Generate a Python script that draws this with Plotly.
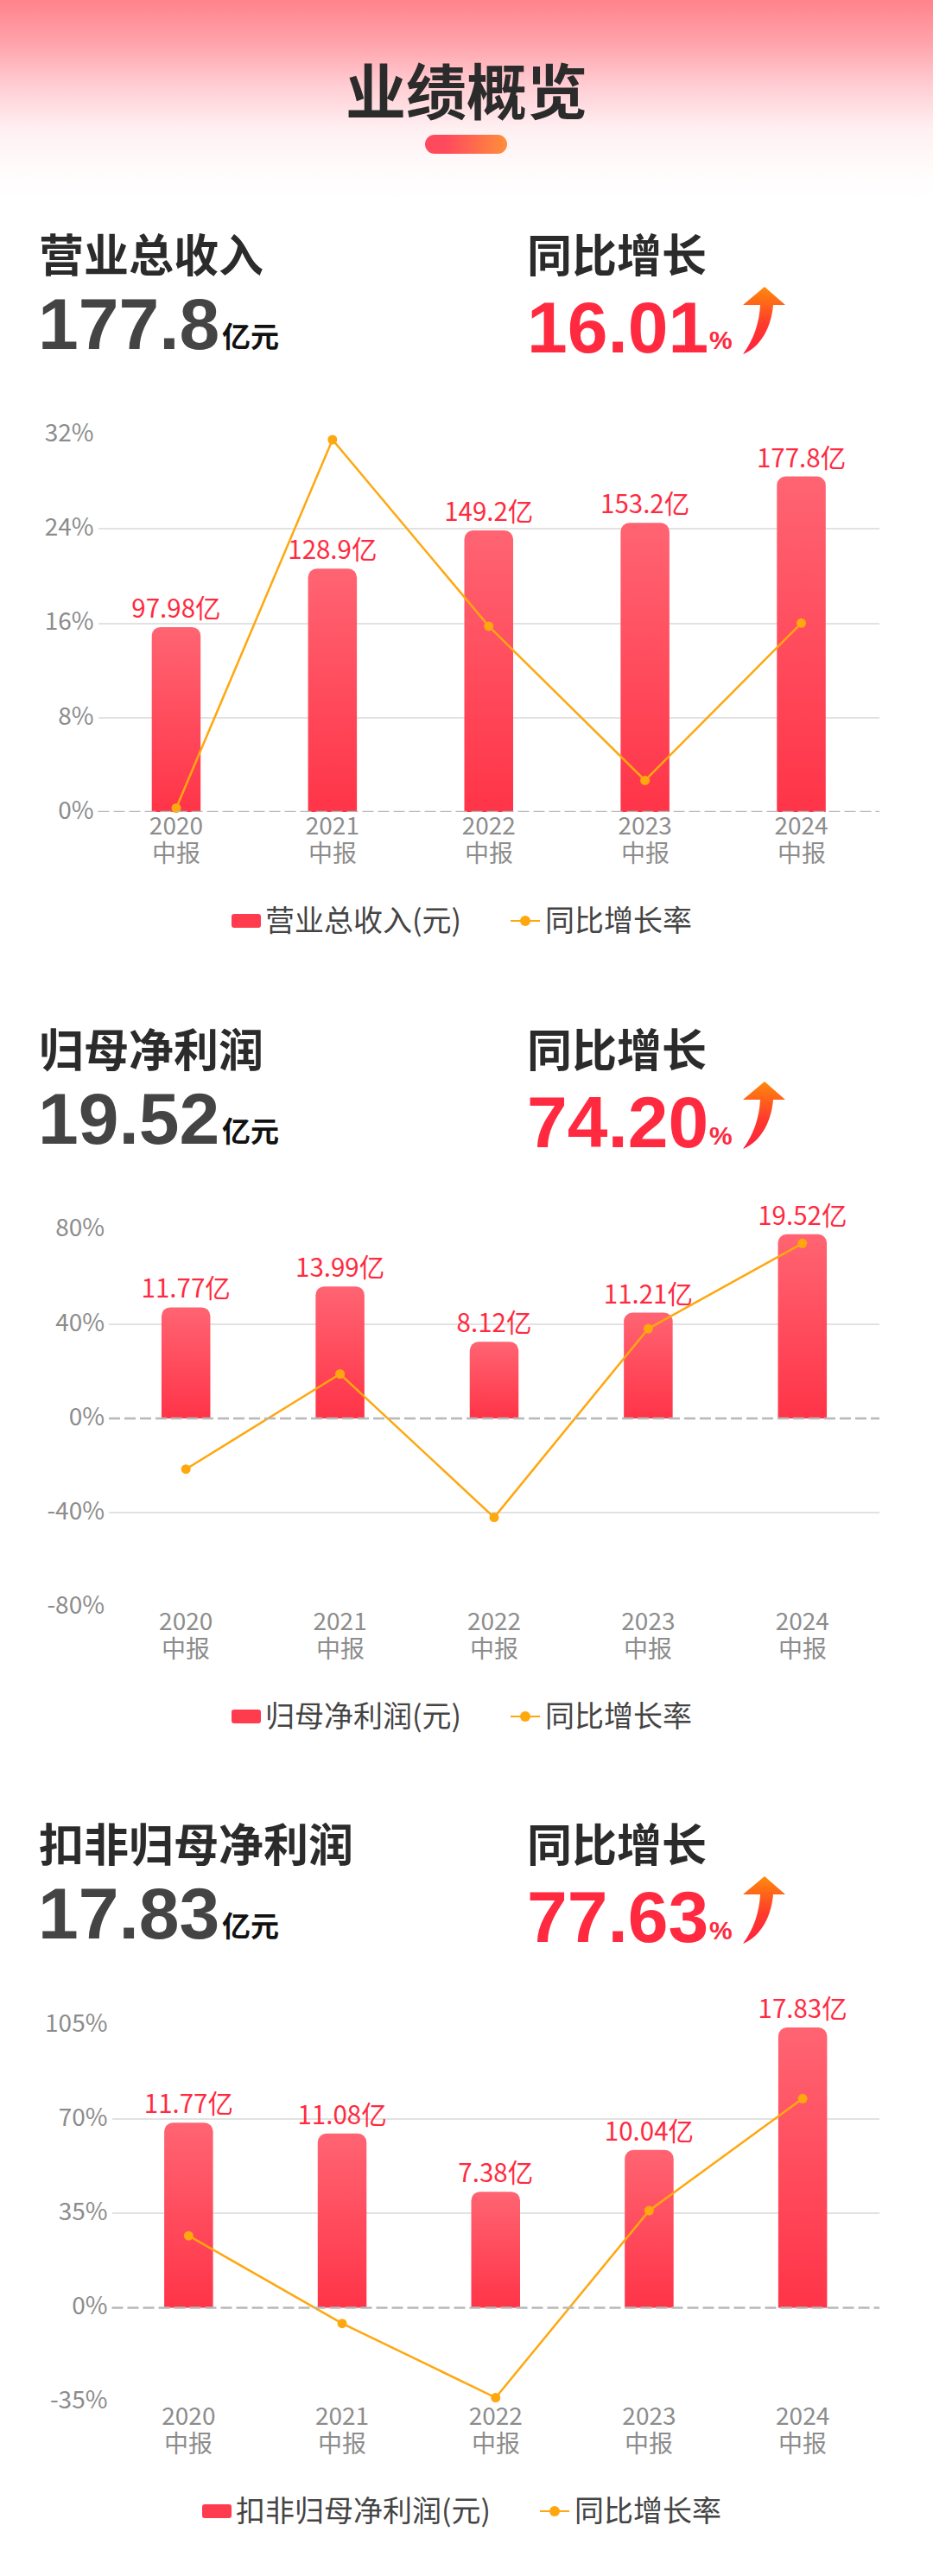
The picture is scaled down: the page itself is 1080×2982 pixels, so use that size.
import plotly.graph_objects as go
from urllib.parse import quote

W, H = 1080, 2982
years = ["2020", "2021", "2022", "2023", "2024"]
report = "中报"

revenue = [97.98, 128.9, 149.2, 153.2, 177.8]
revenue_growth = [0.33, 31.56, 15.75, 2.68, 16.01]
net = [11.77, 13.99, 8.12, 11.21, 19.52]
net_growth = [-21.5, 18.86, -41.96, 38.05, 74.20]
deducted = [11.77, 11.08, 7.38, 10.04, 17.83]
deducted_growth = [26.7, -5.86, -33.4, 36.04, 77.63]

RED = "#ff2a40"
DARK = "#2b2b2b"
GREY = "#8c8c8c"
ORANGE = "#ffa70f"
FONT = "Noto Sans CJK SC"
NUM = "Liberation Sans"

sections = [
    dict(title="营业总收入", total="177.8", growth="16.01", name="营业总收入(元)", bars=revenue, line=revenue_growth,
         ticks=[0, 8, 16, 24, 32], lrange=[0, 32], brange=[0, 200],
         px=(113.5, 1018), py=(503, 940), head=293, big=372, legend_y=1066, legend_x=268),
    dict(title="归母净利润", total="19.52", growth="74.20", name="归母净利润(元)", bars=net, line=net_growth,
         ticks=[-80, -40, 0, 40, 80], lrange=[-80, 80], brange=[-20, 20],
         px=(126, 1018), py=(1423.5, 1860.5), head=1212, big=1292, legend_y=1987, legend_x=268),
    dict(title="扣非归母净利润", total="17.83", growth="77.63", name="扣非归母净利润(元)", bars=deducted, line=deducted_growth,
         ticks=[-35, 0, 35, 70, 105], lrange=[-35, 105], brange=[-6, 18],
         px=(129.5, 1018), py=(2344, 2780.5), head=2132, big=2212, legend_y=2907, legend_x=234),
]


def fx(p):
    return p / W


def fy(p):
    return 1 - p / H


def svg_uri(body, w, h):
    return "data:image/svg+xml," + quote(
        f'<svg xmlns="http://www.w3.org/2000/svg" width="{w}" height="{h}" viewBox="0 0 {w} {h}">{body}</svg>'
    )


HEADER = svg_uri(
    '<defs><linearGradient id="a" x1="0" y1="0" x2="0" y2="1">'
    '<stop offset="0" stop-color="#ff838c"/><stop offset="0.22" stop-color="#ffa3ab"/>'
    '<stop offset="0.43" stop-color="#ffcdd3"/><stop offset="0.65" stop-color="#fff0f2"/>'
    '<stop offset="0.85" stop-color="#fffbfb"/><stop offset="1" stop-color="#ffffff"/></linearGradient></defs>'
    '<rect width="1080" height="230" fill="url(#a)"/>', 1080, 230)
PILL = svg_uri(
    '<defs><linearGradient id="p"><stop offset="0.25" stop-color="#ff4a5e"/>'
    '<stop offset="1" stop-color="#ff8f3a"/></linearGradient></defs>'
    '<rect width="95" height="22" rx="11" fill="url(#p)"/>', 95, 22)
ARROW = svg_uri(
    '<defs><linearGradient id="r" x1="0" y1="0" x2="0" y2="1">'
    '<stop offset="0" stop-color="#ff8a0a"/><stop offset="0.55" stop-color="#ff3b2c"/>'
    '<stop offset="1" stop-color="#ff2040"/></linearGradient></defs>'
    '<path d="M25 0 L49 21 L35 21 C33 45 22 69 0 78 C12 62 19 42 20 21 L0 21 Z" fill="url(#r)"/>', 49, 78)

fig = go.Figure()
annotations, shapes = [], []
images = [
    dict(source=HEADER, xref="paper", yref="paper", x=0, y=1, sizex=1, sizey=230 / H,
         sizing="stretch", xanchor="left", yanchor="top", layer="below"),
    dict(source=PILL, xref="paper", yref="paper", x=fx(492), y=fy(156), sizex=95 / W, sizey=22 / H,
         sizing="stretch", xanchor="left", yanchor="top", layer="below"),
]


def text(t, x, y, size, color, bold=False, anchor="left", family=FONT):
    annotations.append(dict(
        text=f"<b>{t}</b>" if bold else t, xref="paper", yref="paper", x=fx(x), y=fy(y),
        xanchor=anchor, yanchor="middle", showarrow=False, font=dict(size=size, color=color, family=family),
    ))


text("业绩概览", 540, 102, 70, DARK, True, "center")

layout = dict()
for i, s in enumerate(sections):
    n = i * 2 + 1
    x_key = "xaxis" if i == 0 else f"xaxis{i + 1}"
    by_key = "yaxis" if n == 1 else f"yaxis{n}"
    ly_key = f"yaxis{n + 1}"
    xa = "x" if i == 0 else f"x{i + 1}"
    by = "y" if n == 1 else f"y{n}"
    ly = f"y{n + 1}"
    dom_x = [fx(s["px"][0]), fx(s["px"][1])]
    dom_y = [fy(s["py"][1]), fy(s["py"][0])]
    step = (s["px"][1] - s["px"][0]) / 5

    fig.add_trace(go.Bar(
        x=years, y=s["bars"], name=s["name"], xaxis=xa, yaxis=by, width=56.5 / step,
        marker=dict(color="#ff4a5c", line=dict(width=0), cornerradius=10),
        text=[f"{v:g}亿" for v in s["bars"]],
        textposition="outside", textangle=0, cliponaxis=False, constraintext="none",
        textfont=dict(size=29.5, color=RED, family=FONT), showlegend=False,
    ))
    fig.add_trace(go.Scatter(
        x=years, y=s["line"], name="同比增长率", xaxis=xa, yaxis=ly, mode="lines+markers",
        line=dict(color=ORANGE, width=2.5), marker=dict(color=ORANGE, size=11),
        cliponaxis=False, showlegend=False,
    ))

    layout[x_key] = dict(
        domain=dom_x, anchor=ly, type="category", categoryorder="array", categoryarray=years,
        range=[-0.5, 4.5], showgrid=False, showline=False, ticks="", zeroline=False,
        tickfont=dict(size=28, color=GREY, family=FONT), tickangle=0, fixedrange=True,
        ticklabelstandoff=-3,
    )
    layout[by_key] = dict(domain=dom_y, anchor=xa, range=s["brange"], visible=False, fixedrange=True)
    layout[ly_key] = dict(
        domain=dom_y, anchor=xa, overlaying=by, side="left", range=s["lrange"], tickvals=s["ticks"],
        ticktext=[f"{t}%" for t in s["ticks"]], showgrid=True, gridcolor="#e2e2e2", gridwidth=2,
        zeroline=True, zerolinecolor="#ffffff", zerolinewidth=2, showline=False, ticks="",
        tickfont=dict(size=28, color=GREY, family=FONT), ticklabelstandoff=4, ticklabelshift=-2, fixedrange=True,
    )

    # dashed zero line, measured on the growth axis
    shapes.append(dict(type="line", xref="paper", yref=ly, x0=dom_x[0], x1=dom_x[1], y0=0, y1=0,
                       line=dict(color="#b8b8b8", width=2.5, dash="13px,5px"), layer="above"))

    # second line of the category labels (annotation positions on a category axis are indices)
    for k in range(len(years)):
        annotations.append(dict(
            text=report, xref=xa, yref="paper", x=k, y=fy(s["py"][1] + 46), xanchor="center", yanchor="middle",
            showarrow=False, font=dict(size=28, color=GREY, family=FONT),
        ))

    # headline block
    text(s["title"], 43, s["head"], 52, DARK, True)
    text("同比增长", 608, s["head"], 52, DARK, True)
    text(s["total"], 42, s["big"] + 3, 84, "#444444", True, family=NUM)
    text("亿元", 255, s["big"] + 16, 33, "#111111", True)
    text(s["growth"], 608, s["big"] + 7, 84, RED, True, family=NUM)
    text("%", 819, s["big"] + 22, 30, RED, True, family=NUM)
    images.append(dict(source=ARROW, xref="paper", yref="paper", x=fx(860), y=fy(s["big"] - 40),
                       sizex=49 / W, sizey=78 / H, sizing="stretch", xanchor="left", yanchor="top", layer="below"))

    # legend
    ly_px = s["legend_y"]
    lx = s["legend_x"]
    x0, x1, y0, y1 = lx, lx + 34, ly_px - 8, ly_px + 8
    r = 3
    swatch = (
        f"M{fx(x0 + r)},{fy(y0)} L{fx(x1 - r)},{fy(y0)} Q{fx(x1)},{fy(y0)} {fx(x1)},{fy(y0 + r)} "
        f"L{fx(x1)},{fy(y1 - r)} Q{fx(x1)},{fy(y1)} {fx(x1 - r)},{fy(y1)} "
        f"L{fx(x0 + r)},{fy(y1)} Q{fx(x0)},{fy(y1)} {fx(x0)},{fy(y1 - r)} "
        f"L{fx(x0)},{fy(y0 + r)} Q{fx(x0)},{fy(y0)} {fx(x0 + r)},{fy(y0)} Z"
    )
    shapes.append(dict(type="path", xref="paper", yref="paper", path=swatch,
                       fillcolor="#ff3b4e", line=dict(width=0)))
    text(s["name"], lx + 37, ly_px - 3, 34, "#444444")
    lx2 = lx + 323 if i < 2 else lx + 391
    shapes.append(dict(type="line", xref="paper", yref="paper", x0=fx(lx2), x1=fx(lx2 + 34), y0=fy(ly_px), y1=fy(ly_px),
                       line=dict(color=ORANGE, width=2)))
    shapes.append(dict(type="circle", xref="paper", yref="paper", x0=fx(lx2 + 11), x1=fx(lx2 + 23), y0=fy(ly_px - 6),
                       y1=fy(ly_px + 6), fillcolor=ORANGE, line=dict(width=0)))
    text("同比增长率", lx2 + 38, ly_px - 3, 34, "#444444")

fig.update_layout(
    width=W, height=H, margin=dict(l=0, r=0, t=0, b=0, autoexpand=False), paper_bgcolor="#ffffff",
    plot_bgcolor="rgba(0,0,0,0)",
    barmode="overlay", showlegend=False, annotations=annotations, shapes=shapes, images=images,
    font=dict(family=FONT), **layout,
)

post = """
document.documentElement.style.margin = '0';
document.body.style.margin = '0';
document.body.style.padding = '0';
var gd = document.getElementById('{plot_id}');
var svg = gd.querySelector('svg.main-svg');
var ns = 'http://www.w3.org/2000/svg';
var defs = document.createElementNS(ns, 'defs');
var g = document.createElementNS(ns, 'linearGradient');
g.setAttribute('id', 'barFade'); g.setAttribute('x1', '0'); g.setAttribute('y1', '0');
g.setAttribute('x2', '0'); g.setAttribute('y2', '1');
[['0', '#ff6472'], ['1', '#ff3448']].forEach(function (c) {
  var st = document.createElementNS(ns, 'stop');
  st.setAttribute('offset', c[0]); st.setAttribute('stop-color', c[1]); g.appendChild(st);
});
defs.appendChild(g); svg.appendChild(defs);
gd.querySelectorAll('.barlayer .point path').forEach(function (p) {
  p.style.setProperty('fill', 'url(#barFade)');
});
"""
fig.write_html("out.html", post_script=post, config=dict(staticPlot=True, responsive=False))
